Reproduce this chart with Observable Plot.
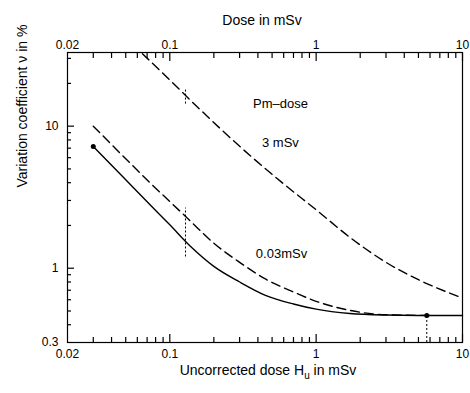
<!DOCTYPE html>
<html><head><meta charset="utf-8">
<script src="https://cdn.jsdelivr.net/npm/d3@7"></script>
<script src="https://cdn.jsdelivr.net/npm/@observablehq/plot@0.6"></script>
<style>html,body{margin:0;padding:0;background:#fff} svg{display:block}</style>
</head><body><div id="chart"></div>
<script>
// Solid curve
const solidDose = [0.03, 0.05, 0.075, 0.1, 0.14, 0.2, 0.3, 0.45, 0.7, 1.0, 1.7, 3, 5, 10];
const solidCv   = [7.2, 4.19, 2.73, 2.02, 1.41, 1.03, 0.80, 0.645, 0.56, 0.515, 0.48, 0.468, 0.465, 0.465];
// Dashed curve, Pm-dose 0.03 mSv
const lowDose = [0.03, 0.05, 0.075, 0.1, 0.14, 0.2, 0.3, 0.45, 0.7, 1.0, 1.7, 3, 6];
const lowCv   = [10, 5.9, 3.9, 2.95, 2.12, 1.5, 1.1, 0.84, 0.68, 0.585, 0.505, 0.47, 0.465];
// Dashed curve, Pm-dose 3 mSv
const highDose = [0.065, 0.1, 0.15, 0.22, 0.35, 0.6, 1.0, 1.7, 3, 5, 10];
const highCv   = [32.4, 21.1, 14.05, 9.66, 6.27, 3.92, 2.58, 1.65, 1.10, 0.83, 0.617];
// Marked points
const pointDose = [0.03, 5.7];
const pointCv   = [7.2, 0.465];
// Error bars
const errDose = [0.128, 0.128, 5.7];
const errLow  = [14.3, 1.2, 0.3];
const errHigh = [18.0, 2.65, 0.465];
// Annotations
const noteText = ["Pm\u2013dose", "3 mSv", "0.03mSv"];
const noteDose = [0.57, 0.57, 0.58];
const noteCv   = [14.3, 7.6, 1.26];
// Axis ticks and titles
const xTickLabels = [0.02, 0.1, 1, 10];
const xMajor = [0.1, 1, 10];
const xMinor = [0.03, 0.04, 0.05, 0.06, 0.07, 0.08, 0.09, 0.2, 0.3, 0.4, 0.5, 0.6, 0.7, 0.8, 0.9, 2, 3, 4, 5, 6, 7, 8, 9];
const yTickLabels = [0.3, 1, 10];
const yMajor = [1, 10];
const yMinor = [0.4, 0.5, 0.6, 0.7, 0.8, 0.9, 2, 3, 4, 5, 6, 7, 8, 9, 20, 30];
const xTitleBottom = "Uncorrected dose Hu in mSv";
const xTitleTop = "Dose in mSv";
const yTitle = "Variation coefficient \u03bd in %";

const toRows = (xs, ys) => xs.map((x, i) => ({x, y: ys[i]}));
const solid = toRows(solidDose, solidCv);
const low = toRows(lowDose, lowCv);
const high = toRows(highDose, highCv);
const pts = toRows(pointDose, pointCv);
const errs = errDose.map((x, i) => ({x, y1: errLow[i], y2: errHigh[i]}));
const notes = noteText.map((t, i) => ({t, x: noteDose[i], y: noteCv[i]}));
const blank = () => "";
const tk = {label: null, tickFormat: blank, stroke: "#000", strokeWidth: 1.2};
const fmt = d => String(d);

const chart = Plot.plot({
  width: 470, height: 393,
  marginTop: 52, marginBottom: 51, marginLeft: 67, marginRight: 8,
  style: {fontFamily: "'Liberation Sans', Arial, sans-serif", fontSize: "12px", color: "#000", background: "#fff"},
  x: {type: "log", domain: [0.02, 10]},
  y: {type: "log", domain: [0.3, 33]},
  marks: [
    Plot.frame({stroke: "#000", strokeWidth: 1.2}),
    // inward ticks
    Plot.axisX(xMajor, {anchor: "bottom", tickSize: 8, dy: -8, ...tk}),
    Plot.axisX(xMinor, {anchor: "bottom", tickSize: 5, dy: -5, ...tk}),
    Plot.axisX(xMajor, {anchor: "top", tickSize: 8, dy: 8, ...tk}),
    Plot.axisX(xMinor, {anchor: "top", tickSize: 5, dy: 5, ...tk}),
    Plot.axisY(yMajor, {anchor: "left", tickSize: 7, dx: 7, ...tk}),
    Plot.axisY(yMinor, {anchor: "left", tickSize: 4, dx: 4, ...tk}),
    // tick labels
    Plot.text(xTickLabels, {x: d => d, text: fmt, frameAnchor: "bottom", dy: 15, fontSize: 12}),
    Plot.text(xTickLabels, {x: d => d, text: fmt, frameAnchor: "top", dy: -12, fontSize: 12}),
    Plot.text(yTickLabels, {y: d => d, text: fmt, frameAnchor: "left", dx: -9, textAnchor: "end", fontSize: 12}),
    // axis titles
    Plot.text([xTitleBottom], {text: d => d, frameAnchor: "bottom", dy: 32, dx: 3, fontSize: 14}),
    Plot.text([xTitleTop], {text: d => d, frameAnchor: "top", dy: -37, dx: -3, fontSize: 14}),
    Plot.text([yTitle], {text: d => d, frameAnchor: "left", dx: -45, dy: -10, rotate: -90, fontSize: 14}),
    // curves
    Plot.line(solid, {x: "x", y: "y", curve: "monotone-x", stroke: "#000", strokeWidth: 1.4}),
    Plot.line(low, {x: "x", y: "y", curve: "monotone-x", stroke: "#000", strokeWidth: 1.4, strokeDasharray: "9,5"}),
    Plot.line(high, {x: "x", y: "y", curve: "monotone-x", stroke: "#000", strokeWidth: 1.4, strokeDasharray: "9,5", clip: true}),
    Plot.ruleX(errs, {x: "x", y1: "y1", y2: "y2", stroke: "#000", strokeWidth: 1, strokeDasharray: "2,2"}),
    Plot.dot(pts, {x: "x", y: "y", r: 2.5, fill: "#000"}),
    Plot.text(notes, {x: "x", y: "y", text: "t", fontSize: 13, fill: "#000"})
  ]
});
document.getElementById("chart").appendChild(chart);

// subscript u in the bottom axis title
d3.select(chart).selectAll("text").each(function() {
  if (this.textContent === xTitleBottom) {
    const t = d3.select(this);
    t.text("");
    t.append("tspan").text("Uncorrected dose H");
    t.append("tspan").attr("dy", 4).attr("font-size", 10).text("u");
    t.append("tspan").attr("dy", -4).text(" in mSv");
  }
});
</script>
</body></html>
